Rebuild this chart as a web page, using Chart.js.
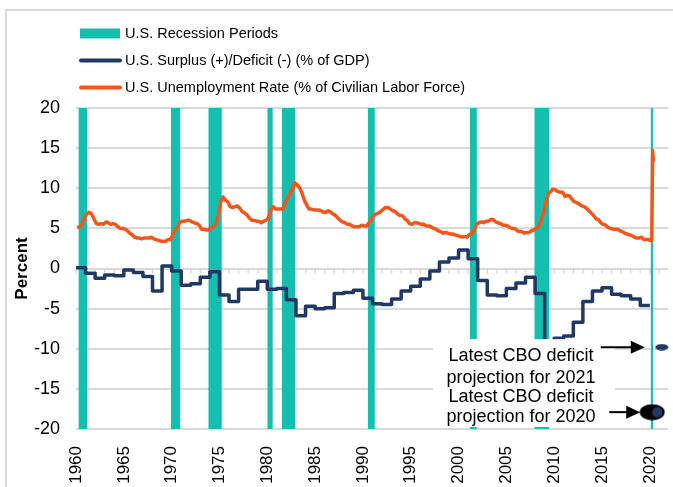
<!DOCTYPE html>
<html>
<head>
<meta charset="utf-8">
<script src="https://cdn.jsdelivr.net/npm/chart.js@4.4.1/dist/chart.umd.min.js"></script>
<style>
  html, body { margin: 0; padding: 0; background: #fff; }
  #chart { display: block; }
</style>
</head>
<body>
<canvas id="chart" width="673" height="487"></canvas>
<script>
const recessionLabel = "U.S. Recession Periods";
const deficitLabel = "U.S. Surplus (+)/Deficit (-) (% of GDP)";
const unempLabel = "U.S. Unemployment Rate (% of Civilian Labor Force)";

// NBER recessions as fractional years
const recessionStart = [1960.25, 1969.92, 1973.83, 1980.0, 1981.5, 1990.5, 2001.17, 2007.92, 2020.08];
const recessionEnd = [1961.17, 1970.92, 1975.25, 1980.58, 1982.92, 1991.25, 2001.92, 2009.5, 2020.33];

// fiscal year surplus/deficit, % of GDP
const deficitYears = [
  1960, 1961, 1962, 1963, 1964, 1965, 1966, 1967, 1968, 1969,
  1970, 1971, 1972, 1973, 1974, 1975, 1976, 1977, 1978, 1979,
  1980, 1981, 1982, 1983, 1984, 1985, 1986, 1987, 1988, 1989,
  1990, 1991, 1992, 1993, 1994, 1995, 1996, 1997, 1998, 1999,
  2000, 2001, 2002, 2003, 2004, 2005, 2006, 2007, 2008, 2009,
  2010, 2011, 2012, 2013, 2014, 2015, 2016, 2017, 2018, 2019
];
const deficitValues = [
  0.1, -0.6, -1.2, -0.8, -0.9, -0.2, -0.5, -1.0, -2.8, 0.3,
  -0.3, -2.1, -1.9, -1.1, -0.4, -3.3, -4.1, -2.6, -2.6, -1.6,
  -2.6, -2.5, -3.9, -5.9, -4.7, -5.0, -4.9, -3.1, -3.0, -2.7,
  -3.7, -4.4, -4.5, -3.8, -2.8, -2.2, -1.3, -0.3, 0.8, 1.3,
  2.3, 1.2, -1.5, -3.3, -3.4, -2.5, -1.8, -1.1, -3.1, -9.8,
  -8.7, -8.4, -6.7, -4.1, -2.8, -2.4, -3.2, -3.4, -3.8, -4.6
];

// unemployment rate, quarterly 1960Q1..2019Q4
const unempStartYear = 1960;
const unempQuarterly = [
  5.1, 5.2, 5.5, 6.3,  6.8, 7.0, 6.8, 6.2,  5.6, 5.5, 5.6, 5.5,  5.8, 5.7, 5.5, 5.6,
  5.5, 5.2, 5.0, 5.0,  4.9, 4.7, 4.4, 4.2,  3.9, 3.8, 3.8, 3.7,  3.8, 3.8, 3.8, 3.9,
  3.7, 3.6, 3.5, 3.4,  3.4, 3.4, 3.6, 3.6,  4.2, 4.8, 5.2, 5.8,  5.9, 5.9, 6.0, 6.0,
  5.8, 5.7, 5.6, 5.4,  4.9, 4.9, 4.8, 4.8,  5.1, 5.2, 5.6, 6.6,  8.3, 8.9, 8.5, 8.3,
  7.7, 7.6, 7.7, 7.8,  7.5, 7.1, 6.9, 6.7,  6.3, 6.0, 6.0, 5.9,  5.9, 5.7, 5.9, 6.0,
  6.3, 7.3, 7.7, 7.4,  7.4, 7.4, 7.4, 8.2,  8.8, 9.4, 9.9, 10.7, 10.4, 10.1, 9.4, 8.5,
  7.9, 7.4, 7.4, 7.3,  7.3, 7.3, 7.2, 7.0,  7.0, 7.2, 7.0, 6.8,  6.6, 6.3, 6.0, 5.8,
  5.7, 5.5, 5.5, 5.3,  5.2, 5.2, 5.2, 5.4,  5.3, 5.3, 5.7, 6.1,  6.6, 6.8, 6.9, 7.1,
  7.4, 7.6, 7.6, 7.4,  7.2, 7.1, 6.8, 6.6,  6.6, 6.2, 6.0, 5.6,  5.5, 5.7, 5.7, 5.6,
  5.5, 5.5, 5.3, 5.3,  5.2, 5.0, 4.9, 4.7,  4.6, 4.4, 4.5, 4.4,  4.3, 4.3, 4.2, 4.1,
  4.0, 3.9, 4.0, 3.9,  4.2, 4.4, 4.8, 5.5,  5.7, 5.8, 5.7, 5.9,  5.9, 6.1, 6.1, 5.8,
  5.7, 5.6, 5.4, 5.4,  5.3, 5.1, 5.0, 5.0,  4.7, 4.6, 4.6, 4.4,  4.5, 4.5, 4.7, 4.8,
  5.0, 5.3, 6.0, 6.9,  8.3, 9.3, 9.6, 9.9,  9.8, 9.6, 9.5, 9.5,  9.0, 9.1, 9.0, 8.6,
  8.3, 8.2, 8.0, 7.8,  7.7, 7.5, 7.2, 6.9,  6.6, 6.2, 6.1, 5.7,  5.5, 5.4, 5.1, 5.0,
  4.9, 4.9, 4.9, 4.7,  4.6, 4.4, 4.3, 4.2,  4.1, 3.9, 3.8, 3.8,  3.9, 3.6, 3.6, 3.6
];
// 2020 monthly, Jan..May
const unemp2020Monthly = [3.5, 3.5, 4.4, 14.7, 13.3];

// CBO projections
const projYears = [2020, 2021];
const projValues = [-17.9, -9.8];
const projText = [
  ["Latest CBO deficit", "projection for 2020"],
  ["Latest CBO deficit", "projection for 2021"]
];

const TEAL = "#15bfb0";
const NAVY = "#1f3864";
const ORANGE = "#f4561a";
const GRID = "#d9d9d9";
const FONT = '"Liberation Sans", Arial, sans-serif';

// build points
const deficitPoints = deficitYears.map((yr, i) => ({ x: yr, y: deficitValues[i] }));
deficitPoints.push({ x: deficitYears[deficitYears.length - 1] + 1, y: deficitValues[deficitValues.length - 1] });

const unempPoints = unempQuarterly.map((v, i) => ({ x: unempStartYear + i / 4 + 0.125, y: v }));
unemp2020Monthly.forEach((v, m) => unempPoints.push({ x: 2020 + (m + 0.5) / 12, y: v }));

const recessionSets = recessionStart.map((s, i) => ({
  type: "line",
  label: recessionLabel,
  data: [{ x: s, y: 20 }, { x: recessionEnd[i], y: 20 }],
  borderColor: "rgba(0,0,0,0)",
  borderWidth: 0,
  backgroundColor: TEAL,
  fill: { value: -20 },
  pointRadius: 0,
  order: 5
}));

function makeMarker(w, h, paint) {
  const c = document.createElement("canvas");
  c.width = w;
  c.height = h;
  paint(c.getContext("2d"), w, h);
  return c;
}
const marker2020 = makeMarker(26, 17, (g, w, h) => {
  g.fillStyle = "#000";
  g.beginPath(); g.ellipse(w / 2, h / 2, 12.5, 8, 0, 0, Math.PI * 2); g.fill();
  g.fillStyle = NAVY;
  g.beginPath(); g.arc(w / 2 + 5, h / 2, 5.2, 0, Math.PI * 2); g.fill();
});
const marker2021 = makeMarker(14, 7, (g, w, h) => {
  g.fillStyle = NAVY;
  g.beginPath(); g.ellipse(w / 2, h / 2, 6.5, 3.2, 0, 0, Math.PI * 2); g.fill();
});

function arrow(ctx, x0, x1, y) {
  ctx.strokeStyle = "#000";
  ctx.fillStyle = "#000";
  ctx.lineWidth = 2;
  ctx.beginPath(); ctx.moveTo(x0, y); ctx.lineTo(x1 - 12, y); ctx.stroke();
  ctx.beginPath(); ctx.moveTo(x1, y); ctx.lineTo(x1 - 14, y - 6.5); ctx.lineTo(x1 - 14, y + 6.5); ctx.closePath(); ctx.fill();
}

const frame = {
  id: "frame",
  beforeDraw(chart) {
    const ctx = chart.ctx;
    ctx.save();
    ctx.strokeStyle = GRID;
    ctx.lineWidth = 2;
    ctx.strokeRect(6, 10, 760, 560);
    ctx.restore();
  }
};

const zeroTicks = {
  id: "zeroTicks",
  beforeDatasetsDraw(chart) {
    const { ctx, scales: { x, y } } = chart;
    const y0 = y.getPixelForValue(0);
    ctx.save();
    ctx.strokeStyle = GRID;
    ctx.lineWidth = 1.5;
    for (let yr = x.min; yr <= x.max; yr++) {
      const px = x.getPixelForValue(yr);
      ctx.beginPath(); ctx.moveTo(px, y0); ctx.lineTo(px, y0 + 5); ctx.stroke();
    }
    ctx.restore();
  }
};

const annotate = {
  id: "annotate",
  afterDatasetsDraw(chart) {
    const { ctx, chartArea, scales: { x, y } } = chart;
    const px = projYears.map(yr => x.getPixelForValue(yr + 0.25));
    const py = projValues.map(v => y.getPixelForValue(v));
    const cx = chartArea.right - 147;
    ctx.save();
    ctx.fillStyle = "#fff";
    ctx.fillRect(cx - 88, py[1] - 8, 182, chartArea.bottom - 2 - (py[1] - 8));
    ctx.fillStyle = "#000";
    ctx.font = "18px " + FONT;
    ctx.textAlign = "center";
    ctx.textBaseline = "middle";
    ctx.fillText(projText[1][0], cx, py[1] + 9);
    ctx.fillText(projText[1][1], cx, py[1] + 31);
    ctx.fillText(projText[0][0], cx, py[0] - 15);
    ctx.fillText(projText[0][1], cx, py[0] + 5);
    arrow(ctx, px[1] - 61, px[1] - 17, py[1]);
    arrow(ctx, px[0] - 43, px[0] - 12, py[0]);
    ctx.restore();
  }
};

const legendRows = [
  { label: recessionLabel, color: TEAL, box: true },
  { label: deficitLabel, color: NAVY, box: false },
  { label: unempLabel, color: ORANGE, box: false }
];
const legendBox = {
  id: "legendBox",
  afterDraw(chart) {
    const ctx = chart.ctx;
    ctx.save();
    ctx.font = "14.5px " + FONT;
    ctx.textBaseline = "middle";
    ctx.textAlign = "left";
    legendRows.forEach((r, i) => {
      const yc = 33.5 + i * 27;
      if (r.box) {
        ctx.fillStyle = r.color;
        ctx.fillRect(80, yc - 5, 40, 10);
      } else {
        ctx.strokeStyle = r.color;
        ctx.lineWidth = 4;
        ctx.lineCap = "round";
        ctx.beginPath(); ctx.moveTo(81, yc); ctx.lineTo(120, yc); ctx.stroke();
      }
      ctx.fillStyle = "#000";
      ctx.fillText(r.label, 125, yc);
    });
    ctx.restore();
  }
};

new Chart(document.getElementById("chart"), {
  data: {
    datasets: [
      {
        type: "scatter",
        label: "CBO projection",
        data: projYears.map((yr, i) => ({ x: yr + 0.25, y: projValues[i] })),
        pointStyle: [marker2020, marker2021],
        showLine: false,
        clip: false,
        order: 0
      },
      {
        type: "line",
        label: unempLabel,
        data: unempPoints,
        borderColor: ORANGE,
        borderWidth: 3.5,
        borderJoinStyle: "round",
        pointRadius: 0,
        tension: 0,
        order: 1
      },
      {
        type: "line",
        label: deficitLabel,
        data: deficitPoints,
        borderColor: NAVY,
        borderWidth: 3.5,
        borderJoinStyle: "round",
        stepped: "before",
        pointRadius: 0,
        order: 2
      },
      ...recessionSets
    ]
  },
  options: {
    responsive: false,
    animation: false,
    layout: { padding: { top: 108, right: 3, left: 0, bottom: 0 } },
    plugins: { legend: { display: false }, tooltip: { enabled: false } },
    scales: {
      x: {
        type: "linear",
        min: 1960,
        max: 2021.9,
        grid: { display: false, drawTicks: false },
        border: { display: false },
        ticks: {
          stepSize: 5,
          includeBounds: false,
          autoSkip: false,
          minRotation: 90,
          maxRotation: 90,
          padding: 17,
          color: "#000",
          font: { family: FONT, size: 17 },
          callback: v => String(v)
        },
        afterFit(s) {
          s.height = 58;
          s.paddingLeft = 0;
          s.paddingRight = 0;
        }
      },
      y: {
        min: -20,
        max: 20,
        grid: { color: GRID, lineWidth: 2, drawTicks: false },
        border: { display: false },
        ticks: {
          stepSize: 5,
          padding: 16,
          color: "#000",
          font: { family: FONT, size: 18 }
        },
        title: {
          display: true,
          text: "Percent",
          color: "#000",
          font: { family: FONT, size: 17, weight: "bold" },
          padding: { top: 12, bottom: 0 }
        },
        afterFit(s) { s.width = 76; }
      }
    }
  },
  plugins: [frame, zeroTicks, annotate, legendBox]
});
</script>
</body>
</html>
